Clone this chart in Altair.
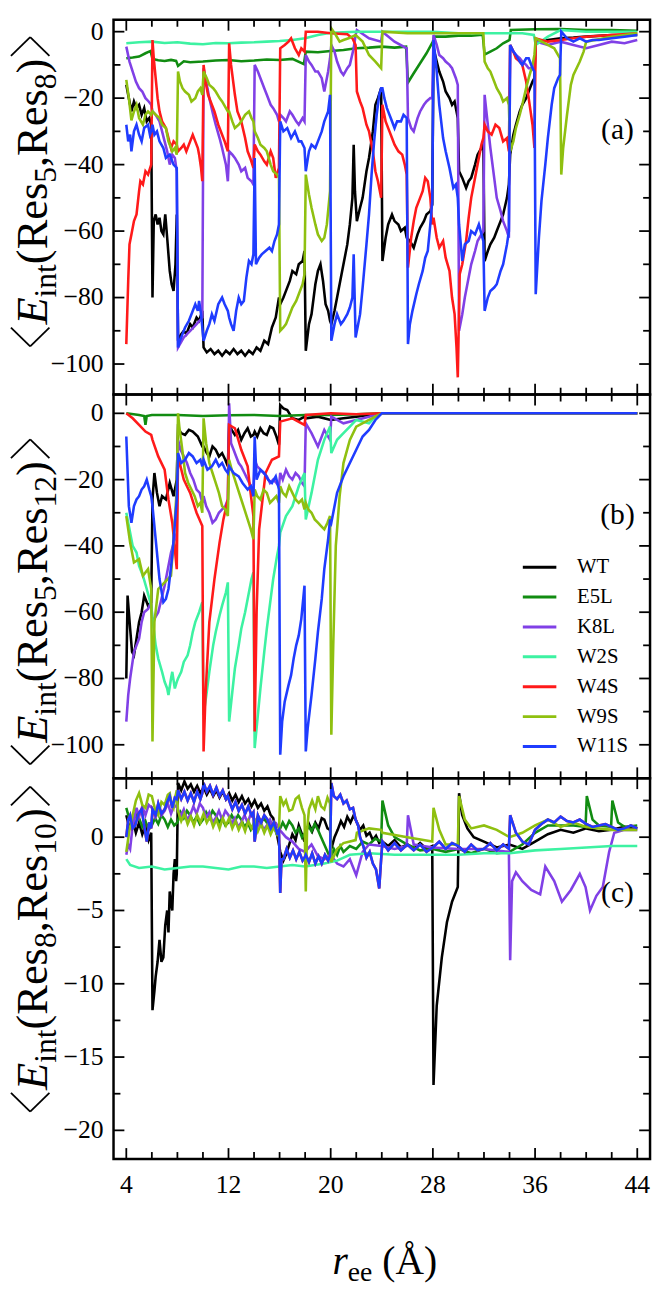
import altair as alt
import pandas as pd

SERIES = ["WT", "E5L", "K8L", "W2S", "W4S", "W9S", "W11S"]
COLORS = ["#000000", "#118c11", "#8040e6", "#3df2a2", "#ff1a1a", "#8fc010", "#1f3cff"]

X_MAJOR = [4, 12, 20, 28, 36, 44]
X_MINOR = [6, 8, 10, 14, 16, 18, 22, 24, 26, 30, 32, 34, 38, 40, 42]
Y_MAJOR_AB = [-100, -80, -60, -40, -20, 0]
Y_MINOR_AB = [-90, -70, -50, -30, -10]
Y_MAJOR_C = [-20, -15, -10, -5, 0]
Y_MINOR_C = [-17.5, -12.5, -7.5, -2.5, 2.5]

# ---------------- panel (a): <E_int(Res5,Res8)> ----------------
A_WT = [(4,-16),(4.2,-20),(4.4,-24),(4.6,-21),(4.8,-23),(5,-22),(5.2,-25),(5.4,-23),(5.6,-27),(5.8,-26),(5.95,-28),
        (6.05,-80),(6.15,-57),(6.3,-55),(6.45,-58),(6.6,-56),(6.75,-60),(6.9,-61),(7.05,-55),(7.2,-62),(7.4,-72),(7.55,-76),(7.7,-78),(7.85,-70),(7.95,-55),
        (8.05,-93),(8.3,-91),(8.5,-90),(8.7,-91),(9,-88),(9.2,-89),(9.5,-86),(9.7,-87),(9.95,-84),
        (10.05,-95),(10.3,-96.5),(10.6,-95.5),(10.9,-97),(11.2,-96),(11.5,-97.5),(11.8,-96),(12.1,-97),(12.4,-95.5),(12.7,-97),(13,-96),
        (13.3,-97.5),(13.6,-96),(13.9,-97),(14.2,-95),(14.5,-96),(14.8,-93),(15.1,-94),(15.4,-89),(15.7,-86),(15.95,-80),
        (16.05,-82),(16.3,-80),(16.5,-78),(16.8,-75),(17,-72),(17.3,-73),(17.5,-70),(17.8,-69),(17.95,-66),
        (18.05,-96),(18.3,-88),(18.5,-85),(18.8,-76),(19,-72),(19.2,-70),(19.4,-75),(19.6,-82),(19.8,-84),(19.95,-87),
        (20.05,-88),(20.3,-84),(20.5,-80),(20.8,-74),(21,-70),(21.3,-64),(21.5,-58),(21.7,-50),(21.8,-34),(21.9,-48),(22.05,-57),(22.3,-53),
        (22.5,-50),(22.8,-42),(23,-38),(23.3,-30),(23.5,-22),(23.7,-20),(23.95,-17),
        (24.05,-69),(24.3,-62),(24.5,-58),(24.8,-55),(25,-57),(25.3,-58),(25.5,-60),(25.8,-59),(25.95,-62),(26.2,-63),(26.5,-65),(26.8,-61),
        (27,-59),(27.3,-57),(27.5,-55),(27.8,-54),(27.95,-52),
        (28.05,-5),(28.3,-9),(28.5,-12),(28.8,-15),(29,-18),(29.3,-20),(29.5,-22),(29.7,-21),(29.95,-26),
        (30.05,-42),(30.3,-44),(30.6,-47),(30.8,-45),(31,-44),(31.3,-40),(31.5,-37),(31.8,-35),(31.95,-33),
        (32.05,-69),(32.3,-66),(32.5,-64),(32.8,-62),(33,-60),(33.3,-57),(33.5,-55),(33.8,-50),(33.95,-46),
        (34.05,-37),(34.3,-31),(34.5,-28),(34.8,-24),(35,-22),(35.3,-20),(35.5,-18),(35.8,-15),(35.95,-14),
        (36.05,-3),(37,-2.5),(38,-2),(39,-1.8),(40,-1.5),(42,-1),(44,-1)]
A_E5L = [(4,-8),(4.5,-7.8),(5,-7.5),(5.5,-6.5),(5.9,-5.8),(6.05,-8.2),(6.5,-8.6),(7,-8.8),(7.5,-8.5),(7.9,-8.8),(8.05,-10.3),(8.5,-8.9),
         (9,-9.2),(10,-9),(11,-8.7),(12,-8.5),(13,-8.9),(14,-8.7),(15,-8.4),(16,-8.5),(17,-8.2),(17.9,-9.8),(18.05,-6),(19,-6.2),(20,-5.8),
         (21,-5.5),(22,-5),(23,-4.8),(24,-4.5),(25,-4.8),(25.9,-4.5),(26.05,-15.3),(26.5,-12.5),(27,-9.5),(27.5,-6.5),(28,-3),(28.1,-1.5),
         (29,-1.5),(30,-1.2),(31,-1.2),(31.9,-0.9),(32.05,-6.9),(32.5,-6),(33,-5),(33.5,-3.5),(34,-2.5),(34.1,0.5),(36,0.7),(38,0.8),(40,0.5),
         (42,0.5),(44,0.3)]
A_K8L = [(4,-4.5),(4.25,-9),(4.5,-12),(4.75,-15),(5,-17),(5.25,-18),(5.5,-20),(5.75,-21),(5.95,-22),(6.05,-24),(6.3,-25),(6.6,-27),
         (6.8,-30),(7,-33),(7.2,-36),(7.4,-40),(7.6,-37),(7.8,-38),(7.95,-42),(8.05,-95),(8.5,-92),(9,-90),(9.5,-88),(9.95,-86),
         (10.05,-11),(10.3,-16),(10.5,-20),(10.8,-25),(11,-28),(11.3,-32),(11.5,-35),(11.8,-40),(11.95,-45),(12.05,-36),(12.3,-37),
         (12.5,-38),(12.8,-40),(13,-42),(13.3,-41),(13.5,-44),(13.8,-45),(13.95,-46),(14.05,-10),(14.3,-12),(14.5,-14),(14.8,-17),(15,-19),
         (15.3,-22),(15.5,-23),(15.8,-25),(15.95,-27),(16.05,-25),(16.3,-26),(16.5,-27),(16.8,-24),(17,-25),(17.3,-27),(17.5,-28),(17.8,-26),
         (17.95,-27),(18.05,-7),(18.3,-9),(18.5,-10),(18.8,-12),(19,-12),(19.3,-14),(19.5,-18),(19.8,-12),(19.95,-8),(20.05,-4),(20.3,-6),
         (20.5,-9),(20.8,-12),(21,-13),(21.3,-11),(21.5,-10),(21.8,-5),(21.95,-1),(22.05,0.5),(23,-2),(23.95,-3),(24.05,0),(25,-3),
         (25.95,-5),(26.05,-26),(26.3,-29),(26.5,-30),(26.8,-26),(27,-24),(27.3,-22),(27.5,-21),(27.8,-20),(27.95,-20),(28.05,-1),(28.3,-4),
         (28.5,-7),(28.8,-8),(29,-9),(29.3,-10),(29.5,-11),(29.8,-14),(29.95,-16),(30.05,-90),(30.3,-85),(30.5,-80),(30.8,-74),(31,-70),
         (31.3,-66),(31.5,-63),(31.8,-61),(31.95,-60),(32.05,-19),(32.3,-28),(32.5,-35),(32.8,-44),(33,-50),(33.3,-54),(33.5,-57),(33.8,-60),
         (33.95,-62),(34.05,-4),(34.3,-6),(34.5,-7),(34.8,-8),(35,-9),(35.3,-10),(35.5,-11),(35.8,-11),(35.95,-12),(36.05,-3),(37,-4),(38,-3),
         (39,-4),(40,-5),(41,-4),(42,-3),(43,-3.5),(44,-2.5)]
A_W2S = [(4,-3.5),(5,-3.2),(6,-3),(7,-3.4),(8,-3.2),(9,-3.6),(10,-3.8),(11,-3.4),(12,-3.5),(13,-3.3),(14,-3.2),(15,-3),(16,-2.8),
         (17,-2.5),(18,-2),(19,-1),(20,-0.3),(22,0),(24,0),(26,0),(28,0),(30,-0.5),(32,-0.5),(34,-0.5),(35,-0.5),(35.9,-1),(36.05,-4),
         (37,-1.5),(38,0.5),(40,0),(42,0),(44,0)]
A_W4S = [(4,-94),(4.15,-75),(4.25,-64),(4.4,-61),(4.6,-57),(4.8,-55),(5,-48),(5.1,-45),(5.3,-46),(5.5,-42),(5.7,-43),(5.95,-40),
         (6.05,-2.5),(6.15,-8),(6.3,-14),(6.45,-20),(6.6,-24),(6.8,-27),(7.1,-29),(7.3,-32),(7.5,-35),(7.7,-33),(7.95,-34),
         (8.05,-36),(8.3,-35),(8.5,-34),(8.7,-36),(9,-33),(9.2,-31),(9.4,-33),(9.6,-35),(9.7,-37),(9.85,-41),(9.95,-45),
         (10.05,-10),(10.2,-15),(10.4,-19),(10.6,-21),(10.9,-24),(11.2,-28),(11.5,-31),(11.7,-33),(11.95,-36),
         (12.05,-3.5),(12.2,-10),(12.5,-19),(12.7,-24),(13,-27),(13.3,-32),(13.5,-36),(13.7,-38),(13.95,-41),
         (14.05,-34),(14.3,-36),(14.5,-37),(14.8,-39),(15,-40),(15.3,-36),(15.5,-38),(15.7,-44),(15.95,-41),
         (16.05,-5),(16.4,-4),(16.7,-3),(16.9,-2),(17.2,-5),(17.5,-7),(17.7,-5),(17.95,-6),
         (18.05,0),(19,0),(20,-0.5),(21.3,-0.8),(21.7,-2),(21.95,-4),
         (22.05,-18),(22.3,-21),(22.5,-23),(22.8,-28),(23,-30),(23.3,-36),(23.5,-42),(23.7,-45),(23.95,-50),
         (24.05,-22),(24.3,-27),(24.6,-30),(24.8,-32),(25,-34),(25.3,-36),(25.6,-37),(25.8,-40),(25.95,-43),
         (26.05,-71),(26.3,-62),(26.5,-57),(26.7,-53),(27,-50),(27.2,-48),(27.4,-44),(27.6,-45),(27.8,-50),(27.95,-58),
         (28.05,-56),(28.3,-62),(28.5,-65),(28.8,-63),(29,-68),(29.3,-72),(29.5,-80),(29.7,-85),(29.85,-95),(29.95,-104),
         (30.1,-73),(30.3,-70),(30.6,-63),(30.8,-56),(31,-50),(31.3,-44),(31.5,-40),(31.8,-34),(31.95,-32),
         (32.05,-28),(32.3,-30),(32.6,-31),(32.9,-28),(33.2,-29),(33.5,-33),(33.8,-32),(33.95,-36),
         (34.05,-4),(34.3,-6),(34.5,-8),(34.8,-9),(35,-10),(35.3,-15),(35.5,-20),(35.8,-28),(35.95,-35),
         (36.05,-2),(37,-3),(38,-2.5),(39,-2),(40,-1.5),(42,-1),(44,-0.5)]
A_W9S = [(4,-14.5),(4.2,-20),(4.4,-26.7),(4.6,-24),(4.8,-22),(5,-26),(5.3,-28),(5.5,-25),(5.7,-24),(5.95,-25),(6.05,-24),(6.3,-25),
         (6.6,-26),(6.8,-28),(7.1,-29),(7.3,-33),(7.6,-36),(7.8,-35),(7.95,-37),(8.05,-12),(8.2,-15),(8.4,-17),(8.6,-18),(8.9,-19),(9.1,-21),
         (9.4,-20),(9.6,-18),(9.8,-17),(9.95,-19),(10.05,-12),(10.3,-14),(10.5,-16),(10.8,-17),(11,-18),(11.3,-20),(11.5,-21),(11.8,-23),
         (11.95,-24),(12.05,-24),(12.3,-27),(12.5,-29),(12.8,-28),(13,-27),(13.3,-25),(13.6,-24),(13.8,-26),(13.95,-27),(14.05,-30),
         (14.3,-32),(14.5,-34),(14.8,-35),(15,-36),(15.3,-40),(15.5,-42),(15.8,-43),(15.95,-44),(16.05,-90),(16.3,-89),(16.5,-88),
         (16.8,-85),(17,-83),(17.3,-81),(17.5,-79),(17.8,-76),(17.95,-73),(18.05,-43),(18.3,-49),(18.5,-53),(18.8,-58),(19,-61),(19.3,-63),
         (19.5,-62),(19.7,-58),(19.95,-48),(20.05,1),(20.4,-1),(20.7,-3),(21,-2.5),(21.4,-2),(21.95,-1),(22.5,-3),(23,-7),(23.5,-9),
         (23.95,-11),(24.05,0),(26,-0.5),(28,-0.5),(30,-0.5),(31.95,-0.5),(32.05,-9),(32.3,-11),(32.5,-12),(32.8,-15),(33,-17),(33.3,-19),
         (33.5,-21),(33.8,-20),(33.95,-22),(34.05,-36),(34.3,-33),(34.5,-29),(34.8,-25),(35,-22),(35.3,-17),(35.5,-14),(35.8,-10),
         (35.95,-7),(36.05,-2),(37,-4),(37.5,-5),(37.95,-8),(38.05,-43),(38.2,-35),(38.5,-25),(38.8,-16),(39,-13),(39.5,-9),(39.8,-6),
         (40,-3),(42,-1.5),(44,-0.5)]
A_W11S = [(4,-28),(4.15,-33),(4.3,-31),(4.4,-36),(4.6,-30),(4.8,-28),(5,-31),(5.2,-33),(5.4,-29),(5.7,-28),(5.85,-31),(5.95,-30),
          (6.05,-28),(6.2,-31),(6.4,-30),(6.6,-33),(6.9,-35),(7.1,-38),(7.4,-37),(7.7,-40),(7.95,-41),
          (8.05,-95),(8.2,-93),(8.4,-91),(8.6,-89),(8.9,-87),(9.1,-85),(9.4,-82),(9.6,-84),(9.7,-81),(9.85,-85),(9.95,-89),
          (10.05,-93),(10.3,-90),(10.5,-88),(10.7,-85),(10.9,-87),(11.2,-82),(11.5,-80),(11.7,-82),(11.95,-84),
          (12.05,-86),(12.2,-88),(12.4,-90),(12.6,-84),(12.8,-80),(13,-82),(13.2,-81),(13.4,-74),(13.6,-69),(13.8,-70),(13.95,-67),
          (14.05,-38),(14.15,-70),(14.4,-68),(14.6,-67),(14.9,-66),(15.2,-65),(15.4,-66),(15.6,-63),(15.8,-61),(15.95,-58),
          (16.05,-27),(16.3,-30),(16.6,-29),(16.9,-32),(17.2,-30),(17.5,-33),(17.7,-33),(17.95,-35),
          (18.05,-42),(18.3,-36),(18.5,-34),(18.8,-35),(19,-33),(19.3,-30),(19.5,-27),(19.8,-24),(19.95,-19),
          (20.05,-93),(20.3,-88),(20.5,-85),(20.8,-88),(21,-87),(21.3,-85),(21.5,-83),(21.7,-80),(21.8,-67),(21.95,-92),
          (22.15,-88),(22.3,-85),(22.5,-77),(22.8,-64),(23,-55),(23.2,-43),(23.4,-33),(23.6,-25),(23.8,-19),(23.95,-17),
          (24.05,-17),(24.2,-20),(24.4,-23),(24.7,-26),(25,-29),(25.2,-27),(25.5,-27),(25.7,-25),(25.95,-26),
          (26.05,-94),(26.2,-88),(26.4,-84),(26.7,-79),(26.9,-76),(27.2,-72),(27.4,-68),(27.6,-66),(27.8,-58),(27.95,-51),
          (28.05,-2.5),(28.2,-8),(28.3,-12),(28.5,-22),(28.8,-32),(29,-36),(29.3,-41),(29.6,-47),(29.8,-46),(29.95,-50),
          (30.05,-58),(30.3,-69),(30.5,-64),(30.8,-63),(31,-60),(31.3,-61),(31.6,-58),(31.95,-63),
          (32.05,-84),(32.3,-80),(32.5,-78),(32.8,-77),(33,-76),(33.3,-72),(33.5,-70),(33.8,-64),(33.95,-60),
          (34.05,-4),(34.3,-6),(34.5,-7),(34.8,-9),(35,-10),(35.3,-8),(35.5,-8),(35.8,-11),(35.95,-12),
          (36.05,-79),(36.3,-62),(36.5,-51),(36.8,-40),(37,-32),(37.3,-22),(37.5,-17),(37.8,-14),(37.95,-13),
          (38.05,0),(38.5,-2),(39,-3),(39.5,-2),(40,-3),(40.5,-2.5),(41,-2.5),(42,-2),(43,-1.5),(44,-1)]

# ---------------- panel (b): <E_int(Res5,Res12)> ----------------
B_WT = [(4,-80),(4.1,-55),(4.3,-65),(4.45,-72),(4.6,-73),(4.8,-68),(5,-63),(5.2,-60),(5.4,-55),(5.7,-58),(5.95,-57),(6.05,-26),(6.2,-18),
        (6.4,-24),(6.6,-28),(6.8,-25),(7.1,-26),(7.4,-21),(7.7,-25),(7.95,-20),(8.05,-4.5),(8.3,-6),(8.6,-6.5),(8.9,-5),(9.2,-5.5),(9.6,-7),
        (9.95,-10),(10.05,-10),(10.3,-12),(10.5,-13),(10.75,-10),(11,-11),(11.25,-13),(11.5,-12),(11.75,-14),(11.95,-16),(12.05,-3),
        (12.25,-5),(12.5,-6.5),(12.75,-5),(13,-8),(13.25,-6),(13.5,-4.5),(13.75,-7),(13.95,-6.5),(14.05,-5.5),(14.25,-7),(14.5,-4.5),
        (14.75,-6),(15,-6.5),(15.25,-4),(15.5,-4.5),(15.75,-7),(15.95,-9.5),(16.05,2.5),(16.3,1.5),(16.6,1),(17,-1.5),(17.5,-2),(17.95,-1),
        (18.05,-1.5),(19,-1),(20,-2),(21,-1.5),(22,-1),(23,-0.5),(24,0),(44,0)]
B_E5L = [(4,0),(5,-0.5),(5.4,-0.8),(5.5,-3.5),(5.6,-0.8),(6,-0.5),(8,-0.5),(10,-0.8),(12,-0.6),(14,-0.5),(16,-0.8),(18,-0.5),(20,-0.5),
         (22,-0.3),(24,0),(44,0)]
B_K8L = [(4,-93),(4.15,-85),(4.3,-80),(4.6,-72),(4.8,-70),(5,-68),(5.2,-63),(5.4,-60),(5.7,-59),(5.95,-57),(6.05,-63),(6.5,-60),(7,-52),
         (7.5,-42),(7.95,-36),(8.05,-8),(8.25,-11),(8.5,-13),(8.75,-15),(9,-18),(9.25,-20),(9.5,-23),(9.75,-24),(9.95,-27),(10.05,-25),
         (10.25,-28),(10.5,-30),(10.75,-33),(11,-32),(11.25,-30),(11.5,-29),(11.75,-28),(11.95,-26),(12.05,3),(12.2,-9),(12.4,-11),
         (12.6,-13),(12.8,-15),(13,-16),(13.25,-18),(13.5,-20),(13.75,-22),(13.95,-25),(14.05,-14),(14.25,-16),(14.5,-17),(14.75,-18),
         (15,-19),(15.25,-21),(15.5,-20),(15.75,-21),(15.95,-22),(16.05,-18),(16.25,-20),(16.5,-17),(16.75,-19),(17,-20),(17.25,-18),
         (17.5,-19),(17.75,-21),(17.95,-22),(18.05,-3),(18.5,-6),(19,-10),(19.5,-5),(19.95,-8),(20.05,-1),(21,-3),(22,-2),(23,-1),
         (24,0),(44,0)]
B_W2S = [(4,-30),(4.3,-36),(4.5,-40),(4.8,-42),(5,-46),(5.3,-49),(5.6,-53),(5.95,-58),(6.05,-62),(6.3,-70),(6.5,-74),(6.8,-78),(7,-81),
         (7.2,-83),(7.3,-85),(7.5,-80),(7.6,-78),(7.8,-83),(7.95,-81),(8.05,-80),(8.3,-78),(8.5,-75),(8.8,-73),(9,-70),(9.2,-66),(9.4,-63),
         (9.7,-60),(9.95,-57),(10.05,-91),(10.3,-84),(10.5,-78),(10.8,-70),(11,-66),(11.3,-61),(11.5,-58),(11.8,-54),(11.95,-51),
         (12.05,-93),(12.3,-84),(12.5,-77),(12.8,-70),(13,-65),(13.3,-60),(13.5,-56),(13.8,-50),(13.95,-48),(14.05,-101),(14.3,-91),
         (14.5,-83),(14.8,-72),(15,-65),(15.3,-56),(15.5,-50),(15.8,-43),(15.95,-40),(16.05,-36),(16.5,-31),(17,-28),(17.5,-22),(17.95,-18),
         (18.05,-32),(18.5,-24),(19,-14),(19.5,-8),(19.95,-4),(20.05,-12),(20.5,-8),(21,-6),(21.5,-4),(22,-2),(23,-3),(23.5,-1),(24,0),(44,0)]
B_W4S = [(4,0),(4.5,-1.5),(5,-3.5),(5.5,-5.5),(5.95,-6.5),(6.05,-8),(6.5,-13),(7,-17),(7.3,-26),(7.6,-33),(7.95,-47),(8.05,-13),(8.5,-20),
         (9,-24),(9.5,-30),(9.95,-34),(10.05,-102),(10.2,-85),(10.5,-63),(10.9,-50),(11.3,-39),(11.6,-32),(11.95,-26),(12.05,-3.5),(12.5,-4.5),
         (13,-11),(13.5,-16),(13.7,-23),(13.95,-31),(14.05,-96),(14.2,-60),(14.4,-35),(14.9,-18),(15.4,-14),(15.95,-13),(16.05,-2.5),(17,-1.5),
         (17.95,-3.5),(18.05,-0.5),(20,0),(22,-0.3),(24,0),(44,0)]
B_W9S = [(4,-31),(4.3,-39),(4.6,-45),(5,-44),(5.3,-49),(5.7,-47),(5.95,-53),(6.05,-99),(6.2,-63),(6.5,-53),(7,-51),(7.5,-49),(7.7,-38),
         (7.95,-23),(8.05,0),(8.15,-4),(8.3,-8.5),(8.45,-13),(8.6,-18),(8.85,-21),(9.1,-23),(9.35,-25),(9.6,-28),(9.8,-27),(9.95,-30),
         (10.05,-1.5),(10.25,-9),(10.5,-15),(10.75,-18),(11,-21),(11.25,-24),(11.5,-28),(11.75,-29),(11.95,-31),(12.05,-14),(12.25,-17),
         (12.5,-20),(12.75,-23),(13,-26),(13.25,-29),(13.5,-32),(13.75,-35),(13.95,-38),(14.05,-23),(14.25,-25),(14.5,-26),(14.75,-23),
         (15,-24),(15.25,-27),(15.5,-26),(15.75,-25),(15.95,-27),(16.05,-22),(16.25,-24),(16.5,-25),(16.75,-22),(17,-24),(17.25,-26),
         (17.5,-27),(17.75,-26),(17.95,-29),(18.05,-27),(18.25,-29),(18.5,-30),(18.75,-32),(19,-33),(19.25,-34),(19.5,-35),(19.75,-33),
         (19.95,-31),(20.05,-97),(20.2,-70),(20.4,-40),(20.7,-25),(21,-15),(21.5,-8),(22,-4),(23,-2),(24,0),(44,0)]
B_W11S = [(4,-7),(4.2,-28),(4.4,-33),(4.6,-28),(4.8,-26),(5,-25),(5.2,-23),(5.4,-22),(5.6,-20),(5.8,-23),(5.95,-25),(6.05,-28),(6.3,-38),
          (6.6,-50),(6.9,-57),(7.1,-56),(7.3,-53),(7.6,-43),(7.95,-26),(8.05,-12),(8.3,-15),(8.6,-14),(8.9,-12),(9.2,-13),(9.5,-15),
          (9.8,-14),(9.95,-16),(10.05,-14),(10.35,-17),(10.7,-16),(11,-14),(11.25,-16),(11.5,-15),(11.75,-17),(11.95,-18),(12.05,-16),
          (12.4,-18),(12.8,-19),(13.1,-21),(13.5,-23),(13.75,-22),(13.95,-25),(14.05,-7),(14.2,-20),(14.5,-17),(14.8,-18),(15.1,-20),
          (15.4,-21),(15.7,-19),(15.95,-23),(16.05,-103),(16.2,-93),(16.4,-87),(16.7,-82),(16.9,-79),(17.1,-74),(17.3,-70),(17.5,-67),
          (17.7,-62),(17.95,-52),(18.05,-102),(18.2,-95),(18.5,-85),(18.8,-74),(19,-66),(19.3,-56),(19.5,-47),(19.8,-38),(19.95,-32),
          (20.05,-33),(20.5,-24),(21,-19),(21.5,-15),(22,-11),(22.5,-7),(23,-5),(23.5,-2),(24,0),(44,0)]

# ---------------- panel (c): <E_int(Res8,Res10)> ----------------
C_WT = [(4,1.5),(4.25,0.6),(4.5,1.2),(4.75,0.3),(5,1),(5.25,0.2),(5.5,0.8),(5.75,-0.2),(5.95,0.3),
        (6.05,-11.8),(6.2,-10.5),(6.3,-9.5),(6.45,-8.5),(6.6,-7),(6.75,-8.5),(6.9,-8.2),(7.05,-6),(7.2,-5),(7.3,-6.5),(7.4,-3.7),(7.5,-4.5),
        (7.6,-5),(7.7,-2.5),(7.8,-1.5),(7.9,-3),(7.95,-2.5),
        (8.05,3.7),(8.3,3.2),(8.55,3.8),(8.8,3.3),(9.05,3.6),(9.3,3.1),(9.55,3.5),(9.8,3),(10.05,3.4),(10.3,2.9),(10.55,3.3),(10.8,2.8),
        (11.05,3.2),(11.3,2.7),(11.55,3.1),(11.8,2.6),(12.05,3),(12.3,2.5),(12.55,2.9),(12.8,2.4),(13.05,2.8),(13.3,2.3),(13.55,2.6),
        (13.8,2.1),(14.05,2.5),(14.3,2),(14.55,2.3),(14.8,1.8),(15.05,2.1),(15.3,1.5),(15.5,1.3),(15.7,0.6),(15.95,-0.5),
        (16.05,-1),(16.3,-1.6),(16.5,-1.2),(16.75,-0.5),(17,0.2),(17.25,-0.2),(17.5,0.8),(17.75,0.2),(17.95,-0.3),
        (18.05,0.3),(18.3,0.9),(18.55,0.4),(18.8,1),(19.05,0.6),(19.3,1.3),(19.5,1.2),(19.75,0.6),(19.95,0.5),
        (20.05,-0.8),(20.3,0),(20.55,0.5),(20.8,1.1),(21.05,0.7),(21.3,1.4),(21.55,1),(21.8,1.5),(21.95,1.2),
        (22.05,1),(22.3,0.5),(22.55,0.8),(22.8,0.1),(23.05,0.3),(23.3,-0.2),(23.55,0.1),(23.8,-0.4),(23.95,-0.3),
        (24.05,-0.3),(24.5,-0.6),(25,-0.2),(25.5,-0.7),(26,-0.5),(26.5,-0.8),(27,-0.4),(27.5,-0.8),(27.95,-0.6),
        (28.05,-16.9),(28.3,-11.5),(28.7,-8.2),(29.1,-5.8),(29.5,-4.4),(29.95,-3.4),
        (30.05,3),(30.3,1.5),(30.7,0.6),(31.2,0),(32,-0.3),(33,-0.7),(34,-0.5),(35,-0.8),(36,-0.3),(37,0.2),(38,0.5),(39,0.3),(40,0.6),
        (41,0.4),(42,0.5),(43,0.7),(44,0.6)]
C_E5L = [(4,2),(4.25,1.2),(4.5,1),(4.75,1.6),(5,1.3),(5.25,0.7),(5.5,1.1),(5.75,0.5),(6,0.8),(6.25,1.3),(6.5,0.9),(6.75,1.5),(7,1.2),
         (7.25,0.7),(7.5,1.2),(7.75,0.8),(8,1),(8.25,1.7),(8.5,1.3),(8.75,1.8),(9,1.5),(9.25,1),(9.5,1.4),(9.75,0.9),(10,1.2),(10.25,1.7),
         (10.5,1.3),(10.75,1.8),(11,1.5),(11.25,1),(11.5,1.3),(11.75,0.8),(12,1),(12.25,1.5),(12.5,1.1),(12.75,1.5),(13,1.2),(13.25,0.7),
         (13.5,1),(13.75,0.5),(14,0.8),(14.25,1.3),(14.5,0.9),(14.75,1.3),(15,1),(15.25,0.5),(15.5,0.8),(15.75,0.3),(16,0.5),(16.25,1),
         (16.5,0.6),(16.75,1.1),(17,0.8),(17.25,0.3),(17.5,0.6),(17.75,0),(18,0.3),(18.25,0.8),(18.5,0.4),(18.75,0.9),(19,0.5),(19.25,0),
         (19.5,-0.5),(19.75,-1),(20,-1.5),(20.25,-0.8),(20.5,-1.2),(20.75,-0.6),(21,-1),(21.5,-0.6),(22,-0.8),(22.5,-0.3),(23,-0.5),
         (23.5,-0.1),(23.95,-0.3),(24.05,2.5),(24.5,0.8),(25,0),(26,-0.5),(27,-0.9),(28,-0.8),(29,-1),(30,-0.8),(31,-1.1),(32,-0.8),
         (33,-1.1),(34,-1),(35,-0.5),(36,0.3),(37,0.8),(38,0.8),(39,0.8),(39.95,0.7),(40.05,2.8),(40.5,1.2),(41,0.8),(41.95,0.7),
         (42.05,2.5),(42.5,1),(43,0.7),(44,0.8)]
C_K8L = [(4,-1.2),(4.15,-0.5),(4.3,-0.8),(4.5,0.8),(4.8,2),(5,1.4),(5.25,2.1),(5.5,1.5),(5.75,2.2),(6,2),(6.25,1.4),(6.5,2.1),(6.75,1.5),
         (7,1.8),(7.25,2.3),(7.5,1.6),(7.75,2.2),(8,2),(8.25,1.4),(8.5,1.9),(8.75,1.2),(9,1.5),(9.25,2.1),(9.5,1.6),(9.75,2.3),(10,2),
         (10.25,1.3),(10.5,1.7),(10.75,1),(11,1.3),(11.25,1.8),(11.5,1.2),(11.75,1.8),(12,1.5),(12.25,0.9),(12.5,1.3),(12.75,0.7),(13,1),
         (13.25,1.5),(13.5,1),(13.75,1.6),(14,1.3),(14.25,0.7),(14.5,1.1),(14.75,0.5),(15,0.8),(15.25,1.2),(15.5,0.6),(15.75,0.9),(16,0.5),
         (16.5,0),(17,-0.3),(17.5,-0.8),(18,-1),(18.5,-0.5),(19,-1.3),(19.5,-1.5),(20,-1.2),(20.5,-1.8),(21,-2),(21.5,-1.5),(22,-2.6),
         (22.5,-1),(23,-0.5),(24,-0.6),(25,-0.8),(25.95,-0.6),(26.05,1.5),(26.5,-0.5),(28,-0.7),(30,-0.8),(32,-0.8),(33.95,-1),(34.05,-8.4),
         (34.2,-3),(34.5,-2.4),(35,-3),(35.7,-3.6),(36.4,-3.9),(36.8,-2),(37.5,-3),(38.1,-4.4),(38.8,-3.6),(39.5,-2.5),(39.95,-3.4),
         (40.3,-5),(40.8,-4),(41.3,-3.4),(41.8,-1),(42.2,0.3),(43,0.5),(44,0.5)]
C_W2S = [(4,-1.5),(4.3,-1.9),(5,-2.1),(6,-2),(7,-2.2),(8,-2.1),(9,-2),(10,-2),(11,-2.1),(12,-2.2),(13,-2),(14,-2),(15,-2.1),(16,-2),
         (17,-1.9),(18,-2),(19.5,-1.8),(20.5,-1.6),(21.5,-1.2),(23,-1.1),(25,-1.2),(28,-1.2),(30,-1.2),(32,-1.1),(34,-1.1),(36,-0.9),
         (38,-0.8),(40,-0.7),(42,-0.6),(44,-0.6)]
C_W9S = [(4,-1),(4.25,0.5),(4.5,1.5),(4.75,2.5),(5,3),(5.25,2.2),(5.5,2),(5.75,2.9),(6,2.8),(6.25,1.9),(6.5,1.5),(6.75,2.4),(7,2.2),
         (7.25,2.9),(7.4,3),(7.55,2.3),(7.7,2),(7.85,2.8),(7.95,3.2),(8.05,1.8),(8.3,1.1),(8.55,1.6),(8.8,0.9),(9.05,1.4),(9.3,0.8),
         (9.55,1.5),(9.8,1),(10.05,1.6),(10.3,1),(10.55,1.4),(10.8,0.7),(11.05,1.2),(11.3,0.6),(11.55,1.3),(11.8,0.8),(12.05,1.3),
         (12.3,0.6),(12.55,1.1),(12.8,0.5),(13.05,1),(13.3,0.4),(13.55,1.1),(13.8,0.6),(14.05,1.1),(14.3,0.4),(14.55,0.9),(14.8,0.3),
         (15.05,0.8),(15.3,0.2),(15.55,0.7),(15.8,0.2),(15.95,0.5),(16.05,2.8),(16.3,2.2),(16.5,2.5),(16.75,1.8),(17,1.9),(17.25,2.6),
         (17.5,2.8),(17.75,2),(17.95,1.5),(18.05,-3.7),(18.15,0.5),(18.3,1.9),(18.55,2.5),(18.8,1.9),(19,2.8),(19.25,2.1),(19.5,1.9),
         (19.75,2.7),(19.95,2.3),(20.05,-1.7),(20.5,-0.8),(21,-0.4),(21.95,-0.2),(22.05,0.3),(23,0.6),(23.95,0.5),(24.05,0.3),(26,0),
         (27.95,-0.3),(28.05,2),(28.5,0.5),(29,-0.5),(29.95,-0.5),(30.05,2.8),(30.5,1.2),(31,0.6),(32,0.8),(33,0.5),(34,0),(35,0.3),(36,0.8),
         (37,1.2),(38,0.7),(39,1),(40,0.7),(42,0.5),(44,0.5)]
C_W11S = [(4,0),(4.15,1.2),(4.3,1.5),(4.5,0.6),(4.7,0.8),(4.95,1.6),(5.2,1.9),(5.4,0.8),(5.6,-0.3),(5.8,1),(5.95,0.6),(6.05,1.9),(6.3,1.5),
          (6.5,2.3),(6.75,1.6),(7,1.9),(7.2,2.4),(7.4,2.8),(7.6,2),(7.8,2.7),(7.95,2.6),(8.05,3.2),(8.3,2.6),(8.55,3.1),(8.8,2.5),(9.05,3),
          (9.3,2.4),(9.55,3.1),(9.8,2.6),(9.95,3),(10.05,3.7),(10.3,3.1),(10.55,3.5),(10.8,2.9),(11.05,3.4),(11.3,2.8),(11.55,3.2),(11.8,2.6),
          (11.95,2.8),(12.05,2.5),(12.3,1.9),(12.55,2.4),(12.8,1.8),(13.05,2.2),(13.3,1.6),(13.55,2.1),(13.8,1.5),(13.95,1.7),(14.05,-0.3),
          (14.2,0.8),(14.3,1.5),(14.55,1),(14.8,1.5),(15.05,1.2),(15.3,0.6),(15.55,1),(15.8,0.3),(15.95,0.5),(16.05,-3.8),(16.15,-1.5),
          (16.3,-1.5),(16.55,-0.8),(16.8,-1.4),(17.05,-0.9),(17.3,-1.5),(17.55,-1),(17.8,-1.6),(17.95,-1.4),(18.05,-1.2),(18.3,-1.7),
          (18.55,-1.1),(18.8,-1.8),(19.05,-1.3),(19.3,-1.8),(19.55,-1.2),(19.8,-1.6),(19.95,-1.3),(20.05,3.7),(20.25,2.8),(20.5,2.6),
          (20.75,2.9),(21,2.3),(21.25,2.5),(21.5,1.9),(21.75,2),(21.95,1.2),(22.15,0.8),(22.3,0),(22.55,-0.6),(22.8,-1.4),(23.05,-1),
          (23.3,-1.8),(23.55,-2.2),(23.8,-3.5),(23.95,-1.5),(24.05,-0.3),(24.5,-0.9),(25,-0.4),(25.5,-0.9),(26,-0.5),(26.5,-0.9),(27,-0.5),
          (27.5,-1),(28,-0.7),(28.5,-0.3),(29,-0.8),(29.5,-0.4),(30,-0.6),(30.5,-1),(31,-0.5),(31.5,-0.9),(32,-0.8),(32.5,-0.4),(33,-0.9),
          (33.5,-0.5),(33.95,-0.8),(34.05,1.5),(34.5,0.3),(35,-0.3),(35.5,-0.5),(36,0.5),(36.5,0.9),(37,1.2),(37.5,1.0),(38,1.4),(38.5,1.1),
          (39,1),(39.5,1.2),(40,0.9),(40.5,0.7),(41,0.8),(41.5,0.9),(42,0.7),(42.5,0.5),(43,0.6),(43.5,0.8),(44,0.6)]
# W4S is not visible in panel (c): it runs underneath the W11S trace
C_W4S = list(C_W11S)

PANEL_A = dict(zip(SERIES, [A_WT, A_E5L, A_K8L, A_W2S, A_W4S, A_W9S, A_W11S]))
PANEL_B = dict(zip(SERIES, [B_WT, B_E5L, B_K8L, B_W2S, B_W4S, B_W9S, B_W11S]))
PANEL_C = dict(zip(SERIES, [C_WT, C_E5L, C_K8L, C_W2S, C_W4S, C_W9S, C_W11S]))

# ---------------- style ----------------
FONT = "Liberation Serif"
W = 544
XS = alt.Scale(domain=[3, 45], nice=False, zero=False)
TICK_MAJ, TICK_MIN = 11, 7
F_T, F_S = 45, 32   # y-title main / subscript font sizes


def txt(s, x, y, size, style="normal", angle=0, align="left", baseline="alphabetic", color="black"):
    return alt.Chart(pd.DataFrame({"s": [s]})).mark_text(
        font=FONT, fontSize=size, fontStyle=style, angle=angle, align=align,
        baseline=baseline, color=color).encode(x=alt.value(x), y=alt.value(y), text="s:N")


def seg(x1, y1, x2, y2, sw=1.8, op=1.0, color="black"):
    return alt.Chart(pd.DataFrame({"k": [0]})).mark_rule(color=color, strokeWidth=sw, opacity=op).encode(
        x=alt.value(x1), y=alt.value(y1), x2=alt.value(x2), y2=alt.value(y2))


def lab(v):
    s = ("%g" % abs(v))
    return ("\u2212" + s) if v < 0 else s


def ytitle(sub1, sub2, yv):
    """rotated y title built from pieces, bottom bracket vertex at y=yv"""
    xb = 46 - 113       # baseline
    xc = 28.5 - 113     # bracket centre
    hw, bh = 19.5, 19
    out = [seg(xc - hw, yv - bh, xc, yv), seg(xc, yv, xc + hw, yv - bh)]
    pieces = [("E", F_T, "italic", 0, 0.611 * F_T),
              ("int", F_S, "normal", 9, 1.056 * F_S),
              ("(Res", F_T, "normal", 0, 1.833 * F_T),
              (sub1, F_S, "normal", 9, 0.5 * len(sub1) * F_S),
              (",Res", F_T, "normal", 0, 1.75 * F_T),
              (sub2, F_S, "normal", 9, 0.5 * len(sub2) * F_S),
              (")", F_T, "normal", 0, 0.333 * F_T)]
    y = yv - 22
    for s, size, style, dx, w in pieces:
        out.append(txt(s, xb + dx, y, size, style, angle=270))
        y -= w
    yt = y - 3
    out += [seg(xc - hw, yt, xc, yt - bh), seg(xc, yt - bh, xc + hw, yt)]
    return out


def panel(data, ydom, h, ymaj, ymin, show_x, label, label_y, sub1, sub2, yv, extra=()):
    ys = alt.Scale(domain=ydom, nice=False, zero=False)
    layers = []
    for name, col in zip(SERIES, COLORS):
        df = pd.DataFrame(data[name], columns=["x", "y"])
        layers.append(alt.Chart(df).mark_line(strokeWidth=2.6, clip=True, color=col).encode(
            x=alt.X("x:Q", scale=XS, axis=None),
            y=alt.Y("y:Q", scale=ys, axis=None)))

    def xt(vals, y0, y1):
        return alt.Chart(pd.DataFrame({"x": vals})).mark_rule(color="black", strokeWidth=1.8).encode(
            x=alt.X("x:Q", scale=XS, axis=None), y=alt.value(y0), y2=alt.value(y1))

    def yt(vals, x0, x1):
        return alt.Chart(pd.DataFrame({"y": vals})).mark_rule(color="black", strokeWidth=1.8).encode(
            y=alt.Y("y:Q", scale=ys, axis=None), x=alt.value(x0), x2=alt.value(x1))

    layers += [xt(X_MAJOR, h, h - TICK_MAJ), xt(X_MINOR, h, h - TICK_MIN),
               xt(X_MAJOR, 0, TICK_MAJ), xt(X_MINOR, 0, TICK_MIN),
               yt(ymaj, 0, TICK_MAJ), yt(ymin, 0, TICK_MIN),
               yt(ymaj, W, W - TICK_MAJ), yt(ymin, W, W - TICK_MIN)]
    # y tick labels
    ylab = pd.DataFrame({"y": ymaj, "t": [lab(v) for v in ymaj]})
    layers.append(alt.Chart(ylab).mark_text(font=FONT, fontSize=26, align="right", baseline="middle",
                                            color="black").encode(
        y=alt.Y("y:Q", scale=ys, axis=None), x=alt.value(-10), text="t:N"))
    if show_x:
        xlab = pd.DataFrame({"x": X_MAJOR, "t": [lab(v) for v in X_MAJOR]})
        layers.append(alt.Chart(xlab).mark_text(font=FONT, fontSize=26, align="center", baseline="top",
                                                color="black").encode(
            x=alt.X("x:Q", scale=XS, axis=None), y=alt.value(h + 14), text="t:N"))
    layers.append(txt(label, 511, label_y, 30, align="center", baseline="middle"))
    layers += ytitle(sub1, sub2, yv)
    layers += list(extra)
    return alt.layer(*layers).properties(width=W, height=h)


H_A, H_B, H_C = 380, 389, 386
anchor = seg(-105, 0, -105, 1, sw=0.01, op=0)
xtitle = [txt("r", 222, H_C + 117, 40, "italic"),
          txt("ee", 237.6, H_C + 124, 28),
          txt("(Å)", 272.5, H_C + 117, 40)]

# legend inside panel (b)
legend = []
for i, (name, col) in enumerate(zip(SERIES, COLORS)):
    yy = 175 + 30.3 * i
    legend.append(seg(415, yy, 449, yy, sw=3, color=col))
    legend.append(txt(name, 470, yy, 21, baseline="middle"))

pa = panel(PANEL_A, [-109.2, 3.56], H_A, Y_MAJOR_AB, Y_MINOR_AB, False, "(a)", 112, "5", "8", 331, extra=[anchor])
pb = panel(PANEL_B, [-110.1, 5.65], H_B, Y_MAJOR_AB, Y_MINOR_AB, False, "(b)", 122, "5", "12", 375, extra=legend)
pc = panel(PANEL_C, [-21.95, 4.02], H_C, Y_MAJOR_C, Y_MINOR_C, True, "(c)", 116, "8", "10", 338, extra=xtitle)

chart = alt.vconcat(pa, pb, pc, spacing=0, bounds="flush").configure(font=FONT).configure_view(
    stroke="black", strokeWidth=2.5).properties(padding=0, background="white")

chart.save("out.html", embed_options={"renderer": "svg", "actions": False})
